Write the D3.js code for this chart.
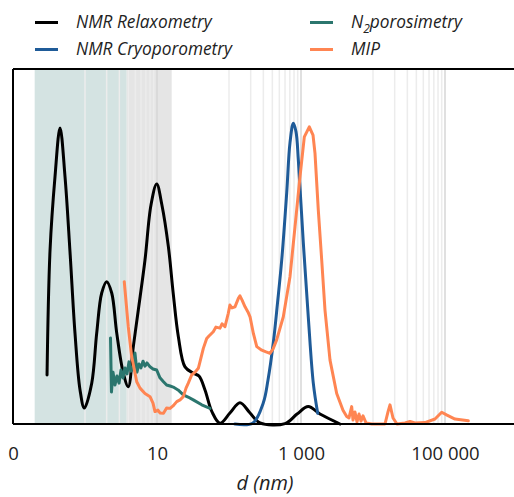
<!DOCTYPE html>
<html>
<head>
<meta charset="utf-8">
<script src="https://cdn.jsdelivr.net/npm/d3@7"></script>
<style>
  html, body { margin: 0; padding: 0; background: #fff; }
  svg { display: block; }
  text { font-family: "Open Sans", sans-serif; fill: #222; }
</style>
</head>
<body>
<svg id="chart" width="514" height="497"></svg>
<script>
// Pore-size distributions, d in nm, intensity in arbitrary units (0–100)
const relaxD = [0.297, 0.327, 0.383, 0.450, 0.528, 0.619, 0.726, 0.853, 0.978, 1.24, 1.454, 1.706, 2.0, 2.35, 2.76, 3.40, 3.99, 4.69, 5.50, 6.81, 8.25, 9.9, 11.7, 14.4, 16.8, 19.8, 24.5, 31.9, 38.3, 46.4, 58.1, 75.0, 103, 142, 196, 270, 600, 880, 1262, 1836, 3480];
const relaxV = [13.8, 49.0, 69.6, 83.4, 69.6, 48.5, 25.6, 9.6, 4.5, 11.5, 25.6, 36.9, 40.1, 36.9, 25.6, 14.4, 10.5, 21.8, 32.1, 46.2, 61.7, 67.6, 61.7, 49.9, 36.8, 24.6, 16.1, 14.3, 13.5, 9.6, 3.4, 0.2, 3.1, 6.0, 3.1, 0.3, 0.1, 2.8, 4.9, 2.8, 0];

const cryoD = [121, 215, 299, 348, 412, 472, 540, 633, 703, 782, 853, 918, 1077, 1262, 1482, 1706];
const cryoV = [0, 0.3, 5.9, 12.4, 22.8, 34.1, 46.2, 65.1, 79.2, 84.7, 82.3, 74.4, 51.0, 30.2, 11.5, 3.0];

const n2D = [2.26, 2.33, 2.45, 2.61, 2.78, 2.97, 3.16, 3.37, 3.59, 3.83, 4.08, 4.35, 4.64, 4.94, 5.27, 5.62, 5.99, 6.39, 6.81, 7.26, 8.0, 8.80, 9.90, 11.0, 12.3, 13.6, 15.2, 16.8, 19.6, 23.2, 27.0, 31.9, 41.8, 54.5];
const n2V = [24.2, 9.0, 14.6, 11.0, 13.5, 11.5, 15.2, 13.0, 15.8, 14.1, 17.5, 14.9, 16.3, 20.0, 14.6, 16.9, 15.8, 17.7, 16.3, 17.2, 16.1, 15.5, 15.2, 13.0, 11.9, 11.0, 10.7, 10.4, 9.6, 8.2, 7.6, 6.8, 5.4, 4.4];

const mipD = [3.51, 3.99, 4.45, 5.23, 5.81, 6.81, 8.0, 8.80, 9.38, 10.3, 11.0, 12.3, 13.6, 15.2, 16.7, 18.8, 20.9, 23.2, 25.3, 27.2, 30.3, 33.7, 37.5, 40.8, 44.0, 49.0, 52.7, 60.5, 65.9, 75.0, 80.0, 88.0, 97.8, 103, 110, 121, 135, 142, 152, 167, 184, 196, 218, 243, 285, 327, 371, 408, 459, 568, 703, 826, 969, 1112, 1304, 1468, 1564, 1738, 1939, 2154, 2529, 3133, 3831, 4313, 4642, 5058, 5275, 5623, 5995, 6394, 6813, 7266, 8000, 9680, 14678, 16150, 17220, 18970, 21540, 27830, 32660, 38310, 52750, 72620, 89940, 106600, 137700, 210900];
const mipV = [40.1, 27.4, 19.0, 11.9, 10.1, 8.6, 7.7, 5.9, 3.5, 3.9, 3.1, 3.0, 4.5, 4.4, 5.1, 6.3, 6.8, 7.7, 10.1, 11.5, 13.8, 14.6, 15.7, 18.6, 21.3, 24.1, 24.8, 26.0, 27.3, 27.0, 28.2, 27.4, 31.2, 33.5, 32.7, 33.0, 35.4, 36.1, 34.9, 33.0, 31.5, 30.2, 25.5, 21.8, 20.8, 20.3, 19.9, 21.1, 23.7, 30.2, 41.5, 55.6, 69.7, 80.9, 83.7, 81.4, 76.3, 60.3, 46.2, 32.1, 18.0, 8.6, 3.9, 2.1, 1.7, 4.9, 1.1, 3.4, 0.6, 2.8, 0.8, 2.3, 0.3, 0, 0, 3.4, 5.4, 1.7, 0, 0.3, 0.7, 0.3, 0.4, 1.4, 3.3, 2.5, 1.4, 0.9];

const seriesNames = ["NMR Relaxometry", "NMR Cryoporometry", "N2porosimetry", "MIP"];
const tickValues = [0.1, 10, 1000, 100000];
const tickLabels = ["0", "10", "1 000", "100 000"];
const gridDecadeStarts = [1, 100, 10000];   // decades carrying minor gridlines
const bandEdges = [0.2, 3.8, 16];            // shaded size ranges
const axisTitle = "d (nm)";

const svg = d3.select("#chart");
const plotLeft = 13, plotTop = 69, plotBottom = 424;

const x = d3.scaleLog().domain([0.1, 1e6]).range([plotLeft, plotLeft + 504]);
const y = d3.scaleLinear().domain([0, 100]).range([plotBottom, plotTop]);

// shaded bands
const bandColors = ["#d4e3e2", "#e5e5e5"];
svg.append("g").selectAll("rect")
  .data(d3.pairs(bandEdges))
  .join("rect")
  .attr("x", d => x(d[0]))
  .attr("width", d => x(d[1]) - x(d[0]))
  .attr("y", plotTop)
  .attr("height", plotBottom - plotTop)
  .attr("fill", (d, i) => bandColors[i]);

// vertical gridlines
const gridVals = [];
gridDecadeStarts.forEach(s => { for (let k = 1; k <= 10; k++) gridVals.push(s * k); });
svg.append("g").selectAll("line")
  .data(gridVals)
  .join("line")
  .attr("x1", d => x(d)).attr("x2", d => x(d))
  .attr("y1", plotTop).attr("y2", plotBottom)
  .attr("stroke", (d, i) => (i % 10 === 9) ? "#d6d6d6" : "#ececec")
  .attr("stroke-width", 1.5);

// curves
const series = [
  { d: relaxD, v: relaxV, color: "#000000", curve: d3.curveCatmullRom.alpha(0.5) },
  { d: cryoD, v: cryoV, color: "#1f5b98", curve: d3.curveCatmullRom.alpha(0.5) },
  { d: n2D, v: n2V, color: "#2b766e", curve: d3.curveLinear },
  { d: mipD, v: mipV, color: "#ff8552", curve: d3.curveLinear }
];
series.forEach(s => {
  const pts = s.d.map((d, i) => [d, s.v[i]]);
  svg.append("path")
    .datum(pts)
    .attr("fill", "none")
    .attr("stroke", s.color)
    .attr("stroke-width", 3)
    .attr("stroke-linejoin", "round")
    .attr("stroke-linecap", "round")
    .attr("d", d3.line().x(p => x(p[0])).y(p => y(p[1])).curve(s.curve));
});

// frame: left and top edges
svg.append("line").attr("x1", plotLeft).attr("x2", plotLeft).attr("y1", plotTop).attr("y2", plotBottom)
  .attr("stroke", "#000").attr("stroke-width", 2);
svg.append("line").attr("x1", plotLeft).attr("x2", 514).attr("y1", plotTop).attr("y2", plotTop)
  .attr("stroke", "#000").attr("stroke-width", 2);

// x axis
const xAxis = d3.axisBottom(x)
  .tickValues(tickValues)
  .tickFormat((d, i) => tickLabels[i])
  .tickSize(0)
  .tickPadding(0);
const gx = svg.append("g").attr("transform", `translate(0,${plotBottom})`).call(xAxis);
gx.select(".domain").remove();
gx.selectAll("text")
  .attr("dy", null)
  .attr("y", 36)
  .style("font-family", "'Open Sans', sans-serif")
  .style("font-size", "18.5px")
  .attr("fill", "#222");
svg.append("line").attr("x1", plotLeft).attr("x2", 514).attr("y1", plotBottom).attr("y2", plotBottom)
  .attr("stroke", "#000").attr("stroke-width", 2);

svg.append("text")
  .attr("x", 265).attr("y", 490)
  .attr("text-anchor", "middle")
  .style("font-style", "italic")
  .style("font-size", "20px")
  .text(axisTitle);

// legend
const legendPos = [[35, 28], [35, 55], [310, 28], [310, 55]];
series.forEach((s, i) => {
  const [lx, ly] = legendPos[i];
  svg.append("line")
    .attr("x1", lx).attr("x2", lx + 23)
    .attr("y1", ly - 5.5).attr("y2", ly - 5.5)
    .attr("stroke", s.color).attr("stroke-width", 3);
  const t = svg.append("text")
    .attr("x", lx + 41).attr("y", ly)
    .style("font-style", "italic")
    .style("font-size", "17.3px");
  if (seriesNames[i] === "N2porosimetry") {
    t.append("tspan").text("N");
    t.append("tspan").attr("dy", 5).style("font-size", "12px").text("2");
    t.append("tspan").attr("dy", -5).text("porosimetry");
  } else {
    t.text(seriesNames[i]);
  }
});
</script>
</body>
</html>
